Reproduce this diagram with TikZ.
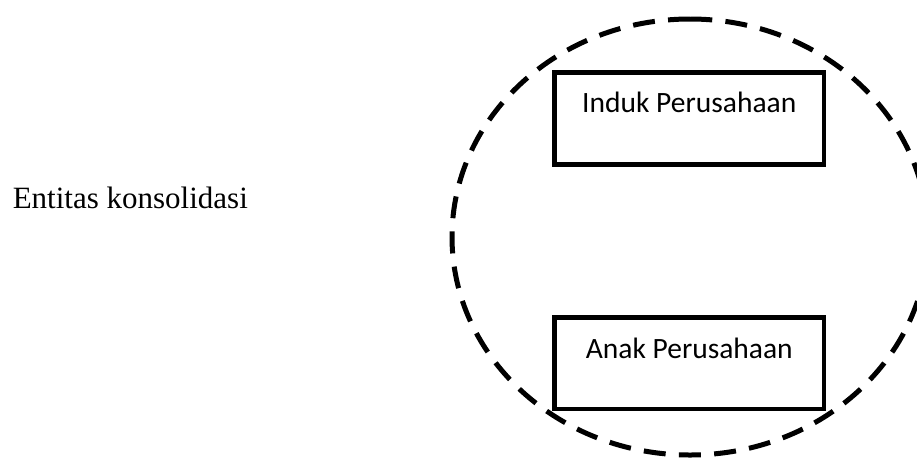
\documentclass[tikz,border=0pt]{standalone}
\usepackage{fontspec}
\setmainfont{Liberation Serif}
\newfontfamily\carlito{Carlito}
\usetikzlibrary{shapes.geometric}
\tikzset{
  grp/.style={ellipse, inner sep=0pt, outer sep=0pt},
  grpline/.style={line width=5pt, dash pattern=on 22pt off 13.28pt},
  entbox/.style={draw, rectangle, line width=4.7pt, inner sep=0pt, outer sep=0pt, minimum width=269.5pt},
  boxlabel/.style={anchor=base, inner sep=0pt, font=\carlito\fontsize{29.5}{35}\selectfont},
  sidelabel/.style={anchor=base west, inner sep=0pt, font=\fontsize{31}{37}\selectfont}
}
\begin{document}
\begin{tikzpicture}[x=1pt,y=-1pt]
\useasboundingbox (0,0) rectangle (917,458);
\clip (0,0) rectangle (917,458);
\node[grp, minimum width=476pt, minimum height=436pt] (group) at (690,237) {};
\draw[grpline] (group.north) arc[start angle=90, end angle=450, x radius=238pt, y radius=218pt];
\node[entbox, minimum height=92pt] (induk) at (689.25,118.5) {};
\node[entbox, minimum height=91.5pt] (anak) at (689.25,363.25) {};
\node[boxlabel] (indukText) at (689.25,112.7) {Induk Perusahaan};
\node[boxlabel] (anakText) at (689.25,358.1) {Anak Perusahaan};
\node[sidelabel] (entitas) at (12.6,208.3) {Entitas konsolidasi};
\end{tikzpicture}
\end{document}
